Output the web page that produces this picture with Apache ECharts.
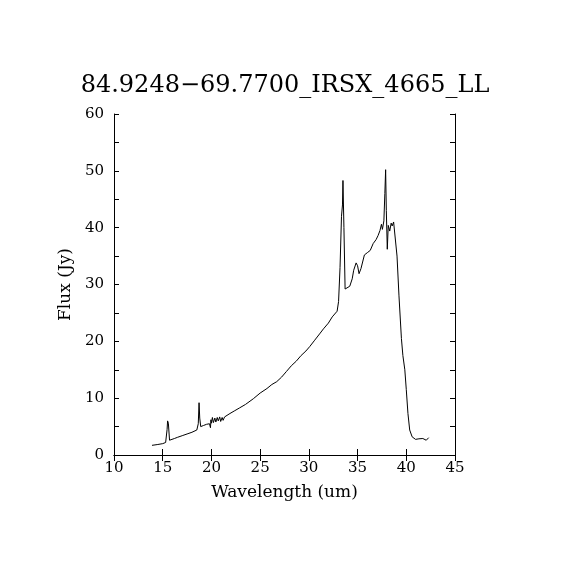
<!DOCTYPE html>
<html>
<head>
<meta charset="utf-8">
<script src="https://cdn.jsdelivr.net/npm/echarts@6/dist/echarts.min.js"></script>
<style>html,body{margin:0;padding:0;background:#fff}#c{width:570px;height:570px}</style>
</head>
<body>
<div id="c"></div>
<script>
var wavelength = [13.9,14.5,15.0,15.3,15.45,15.5,15.58,15.7,15.9,16.2,16.5,17.0,17.5,18.0,18.5,18.65,18.73,18.8,18.9,19.2,19.5,19.8,19.9,19.95,20.0,20.1,20.2,20.35,20.45,20.6,20.7,20.85,20.95,21.1,21.2,21.35,21.9,22.4,22.9,23.5,24.3,25.0,25.7,26.2,26.7,27.2,27.7,28.2,28.7,29.2,29.7,30.1,30.6,31.1,31.5,32.0,32.4,32.9,33.05,33.2,33.35,33.45,33.5,33.6,33.72,33.8,34.2,34.45,34.6,34.85,35.0,35.15,35.35,35.55,35.7,36.0,36.3,36.6,36.9,37.1,37.3,37.45,37.55,37.7,37.8,37.88,37.95,38.05,38.15,38.3,38.45,38.55,38.7,38.9,39.05,39.25,39.5,39.65,39.85,40.0,40.17,40.35,40.6,40.95,41.3,41.7,42.05,42.3];
var flux = [1.7,1.85,2.0,2.2,4.5,6.0,5.6,2.6,2.6,2.9,3.1,3.4,3.7,4.0,4.4,5.5,9.2,6.5,5.0,5.2,5.4,5.5,4.8,6.2,5.6,6.6,5.7,6.5,5.8,6.6,6.0,6.7,5.9,6.6,6.1,6.7,7.3,7.8,8.3,8.9,9.9,10.9,11.7,12.4,12.9,13.7,14.7,15.7,16.5,17.5,18.3,19.1,20.2,21.3,22.2,23.2,24.3,25.3,27.0,33,42,44,48.3,40,29.2,29.0,29.7,31.0,32.5,33.8,33.3,31.9,32.8,33.1,35.2,35.6,36.0,37.2,37.9,38.6,39.5,40.6,39.7,41.2,46.0,50.2,43,36.2,40.4,39.4,40.8,40.3,41.0,41.1,35,28,20.5,17.5,15,11.5,7.3,4.4,3.2,2.75,2.85,2.9,2.6,3.05];
var titleText = "84.9248\u221269.7700_IRSX_4665_LL";
var xName = "Wavelength (um)";
var yName = "Flux (Jy)";

var font = "DejaVu Serif";
var pts = wavelength.map(function(w,i){return [w, flux[i]];});
var chart = echarts.init(document.getElementById('c'));
var axisLine = {show:true, lineStyle:{color:'#000', width:1}};
chart.setOption({
  animation:false,
  backgroundColor:'#fff',
  title:{text:titleText, left:'center', top:69, textStyle:{fontFamily:font, fontSize:24, fontWeight:'normal', color:'#000'}},
  grid:{left:114, right:115, top:114, bottom:115},
  xAxis:[{
    type:'value', min:10, max:45, interval:5, position:'bottom',
    name:xName, nameLocation:'middle', nameGap:29,
    nameTextStyle:{fontFamily:font, fontSize:17, color:'#000'},
    axisLine:axisLine,
    axisTick:{show:true, inside:true, length:6, lineStyle:{color:'#000'}},
    axisLabel:{fontFamily:font, fontSize:15, color:'#000', margin:6},
    splitLine:{show:false}
  },{
    type:'value', min:10, max:45, interval:5, position:'top',
    axisLine:axisLine,
    axisTick:{show:true, inside:true, length:6, lineStyle:{color:'#000'}},
    axisLabel:{show:false}, splitLine:{show:false}
  }],
  yAxis:[{
    type:'value', min:0, max:60, interval:10, position:'left',
    name:yName, nameLocation:'middle', nameGap:32,
    nameTextStyle:{fontFamily:font, fontSize:17, color:'#000'},
    axisLine:axisLine,
    axisTick:{show:true, inside:true, length:5, lineStyle:{color:'#000'}},
    minorTick:{show:true, splitNumber:2, length:5, lineStyle:{color:'#000'}},
    axisLabel:{fontFamily:font, fontSize:15, color:'#000', margin:10},
    splitLine:{show:false}
  },{
    type:'value', min:0, max:60, interval:10, position:'right',
    axisLine:axisLine,
    axisTick:{show:true, inside:true, length:5, lineStyle:{color:'#000'}},
    minorTick:{show:true, splitNumber:2, length:5, lineStyle:{color:'#000'}},
    axisLabel:{show:false}, splitLine:{show:false}
  }],
  series:[{
    type:'line', data:pts, showSymbol:false, symbol:'none',
    lineStyle:{color:'#000', width:1}, xAxisIndex:0, yAxisIndex:0
  }]
});
</script>
</body>
</html>
